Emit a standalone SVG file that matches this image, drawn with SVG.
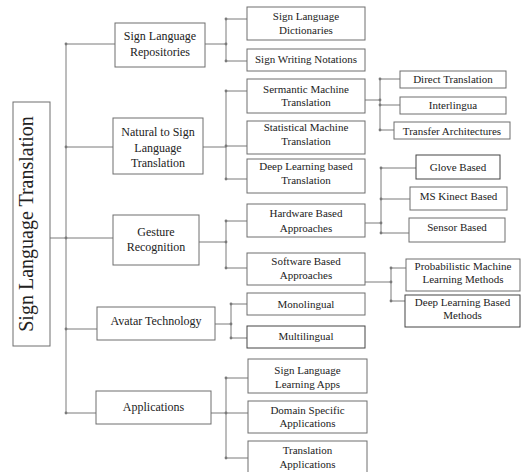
<svg xmlns="http://www.w3.org/2000/svg" width="523" height="472" viewBox="0 0 523 472">
<style>
.b{fill:#fff;stroke:#6e6e6e;stroke-width:1}
.t{font-family:"Liberation Serif","Times New Roman",serif;font-size:11px;fill:#222;text-anchor:middle}
.t1{font-size:12px}
.c line{stroke:#7a7a7a;stroke-width:1}
.c circle{fill:#7a7a7a}
</style>
<rect width="523" height="472" fill="#fff"/>
<g id="connectors" class="c">
<line x1="66" y1="44" x2="66" y2="413"/>
<line x1="50" y1="238" x2="66" y2="238"/>
<line x1="66" y1="44" x2="115" y2="44"/>
<line x1="66" y1="147" x2="113" y2="147"/>
<line x1="66" y1="238" x2="113" y2="238"/>
<line x1="66" y1="329" x2="97" y2="329"/>
<line x1="66" y1="413" x2="96" y2="413"/>
<circle cx="66" cy="44" r="1.4"/><circle cx="66" cy="147" r="1.4"/><circle cx="66" cy="238" r="1.4"/><circle cx="66" cy="329" r="1.4"/><circle cx="66" cy="413" r="1.4"/>
<line x1="205" y1="44" x2="226" y2="44"/>
<line x1="226" y1="19" x2="226" y2="61"/>
<line x1="226" y1="19" x2="247" y2="19"/>
<line x1="226" y1="61" x2="247" y2="61"/>
<circle cx="226" cy="19" r="1.4"/><circle cx="226" cy="44" r="1.4"/><circle cx="226" cy="61" r="1.4"/>
<line x1="203" y1="147" x2="226" y2="147"/>
<line x1="226" y1="91" x2="226" y2="179"/>
<line x1="226" y1="91" x2="247" y2="91"/>
<line x1="226" y1="146" x2="247" y2="146"/>
<line x1="226" y1="179" x2="247" y2="179"/>
<circle cx="226" cy="91" r="1.4"/><circle cx="226" cy="146" r="1.4"/><circle cx="226" cy="179" r="1.4"/>
<line x1="365" y1="100" x2="380" y2="100"/>
<line x1="380" y1="79" x2="380" y2="130"/>
<line x1="380" y1="79" x2="400" y2="79"/>
<line x1="380" y1="105" x2="400" y2="105"/>
<line x1="380" y1="130" x2="394" y2="130"/>
<circle cx="380" cy="79" r="1.4"/><circle cx="380" cy="100" r="1.4"/><circle cx="380" cy="105" r="1.4"/><circle cx="380" cy="130" r="1.4"/>
<line x1="199" y1="242" x2="226" y2="242"/>
<line x1="226" y1="221" x2="226" y2="268"/>
<line x1="226" y1="221" x2="247" y2="221"/>
<line x1="226" y1="268" x2="247" y2="268"/>
<circle cx="226" cy="221" r="1.4"/><circle cx="226" cy="242" r="1.4"/><circle cx="226" cy="268" r="1.4"/>
<line x1="365" y1="223" x2="381" y2="223"/>
<line x1="381" y1="168" x2="381" y2="233"/>
<line x1="381" y1="168" x2="416" y2="168"/>
<line x1="381" y1="199" x2="410" y2="199"/>
<line x1="381" y1="233" x2="409" y2="233"/>
<circle cx="381" cy="168" r="1.4"/><circle cx="381" cy="199" r="1.4"/><circle cx="381" cy="223" r="1.4"/><circle cx="381" cy="233" r="1.4"/>
<line x1="365" y1="282" x2="391" y2="282"/>
<line x1="391" y1="268" x2="391" y2="301"/>
<line x1="391" y1="268" x2="406" y2="268"/>
<line x1="391" y1="301" x2="405" y2="301"/>
<circle cx="391" cy="268" r="1.4"/><circle cx="391" cy="282" r="1.4"/><circle cx="391" cy="301" r="1.4"/>
<line x1="215" y1="324" x2="231" y2="324"/>
<line x1="231" y1="304" x2="231" y2="338"/>
<line x1="231" y1="304" x2="247" y2="304"/>
<line x1="231" y1="338" x2="247" y2="338"/>
<circle cx="231" cy="304" r="1.4"/><circle cx="231" cy="324" r="1.4"/><circle cx="231" cy="338" r="1.4"/>
<line x1="211" y1="413" x2="226" y2="413"/>
<line x1="226" y1="378" x2="226" y2="458"/>
<line x1="226" y1="378" x2="248" y2="378"/>
<line x1="226" y1="413" x2="248" y2="413"/>
<line x1="226" y1="458" x2="248" y2="458"/>
<circle cx="226" cy="378" r="1.4"/><circle cx="226" cy="413" r="1.4"/><circle cx="226" cy="458" r="1.4"/>
</g>
<g id="root"><rect class="b" x="13" y="102" width="37" height="244"/><text class="t" style="font-size:20px" transform="translate(33,224) rotate(-90)">Sign Language Translation</text></g>
<g id="repositories"><rect class="b" x="115" y="23" width="90" height="44"/><text class="t t1" x="160" y="40">Sign Language</text><text class="t t1" x="160" y="56">Repositories</text></g>
<g id="natural"><rect class="b" x="113" y="118" width="90" height="56"/><text class="t t1" x="158" y="136">Natural to Sign</text><text class="t t1" x="158" y="151.5">Language</text><text class="t t1" x="158" y="167">Translation</text></g>
<g id="gesture"><rect class="b" x="113" y="215" width="86" height="50"/><text class="t t1" x="156" y="236">Gesture</text><text class="t t1" x="156" y="251">Recognition</text></g>
<g id="avatar"><rect class="b" x="97" y="307" width="118" height="33"/><text class="t t1" x="156" y="325">Avatar Technology</text></g>
<g id="applications"><rect class="b" x="96" y="391" width="115" height="33"/><text class="t t1" x="153.5" y="411">Applications</text></g>
<g id="dictionaries"><rect class="b" x="247" y="7" width="118" height="33"/><text class="t" x="306" y="19.5">Sign Language</text><text class="t" x="306" y="34">Dictionaries</text></g>
<g id="notations"><rect class="b" x="247" y="49" width="118" height="22"/><text class="t" x="306" y="63">Sign Writing Notations</text></g>
<g id="semantic"><rect class="b" x="247" y="79" width="118" height="34"/><text class="t" x="306" y="93">Sermantic Machine</text><text class="t" x="306" y="106">Translation</text></g>
<g id="statistical"><rect class="b" x="247" y="121" width="118" height="33"/><text class="t" x="306" y="131">Statistical Machine</text><text class="t" x="306" y="144.5">Translation</text></g>
<g id="deeptrans"><rect class="b" x="247" y="159" width="118" height="34"/><text class="t" x="306" y="169.5">Deep Learning based</text><text class="t" x="306" y="184">Translation</text></g>
<g id="hardware"><rect class="b" x="247" y="204" width="118" height="33"/><text class="t" x="306" y="217">Hardware Based</text><text class="t" x="306" y="232">Approaches</text></g>
<g id="software"><rect class="b" x="247" y="253" width="118" height="32"/><text class="t" x="306" y="265">Software Based</text><text class="t" x="306" y="279">Approaches</text></g>
<g id="monolingual"><rect class="b" x="247" y="293" width="118" height="22"/><text class="t" x="306" y="308">Monolingual</text></g>
<g id="multilingual"><rect class="b" x="247" y="326" width="118" height="22" style="stroke:#444"/><text class="t" x="306" y="340">Multilingual</text></g>
<g id="learningapps"><rect class="b" x="248" y="359" width="119" height="34"/><text class="t" x="307.5" y="374">Sign Language</text><text class="t" x="307.5" y="388">Learning Apps</text></g>
<g id="domain"><rect class="b" x="248" y="401" width="119" height="32"/><text class="t" x="307.5" y="414">Domain Specific</text><text class="t" x="307.5" y="427">Applications</text></g>
<g id="translationapps"><rect class="b" x="248" y="441" width="119" height="33"/><text class="t" x="307.5" y="454">Translation</text><text class="t" x="307.5" y="468">Applications</text></g>
<g id="direct"><rect class="b" x="400" y="71" width="106" height="17"/><text class="t" x="453" y="82.5">Direct Translation</text></g>
<g id="interlingua"><rect class="b" x="400" y="97" width="106" height="17"/><text class="t" x="453" y="109">Interlingua</text></g>
<g id="transfer"><rect class="b" x="394" y="122" width="116" height="17"/><text class="t" x="452" y="134.5">Transfer Architectures</text></g>
<g id="glove"><rect class="b" x="416" y="155" width="84" height="24" style="stroke:#444"/><text class="t" x="458" y="170.5">Glove Based</text></g>
<g id="kinect"><rect class="b" x="410" y="187" width="97" height="23"/><text class="t" x="458.5" y="199.5">MS Kinect Based</text></g>
<g id="sensor"><rect class="b" x="409" y="218" width="96" height="24"/><text class="t" x="457" y="230.5">Sensor Based</text></g>
<g id="probabilistic"><rect class="b" x="406" y="259" width="114" height="32"/><text class="t" x="463" y="269.5">Probabilistic Machine</text><text class="t" x="463" y="283">Learning Methods</text></g>
<g id="deepmethods"><rect class="b" x="405" y="295" width="115" height="32" style="stroke:#444"/><text class="t" x="462.5" y="305.5">Deep Learning Based</text><text class="t" x="462.5" y="319">Methods</text></g>
</svg>
